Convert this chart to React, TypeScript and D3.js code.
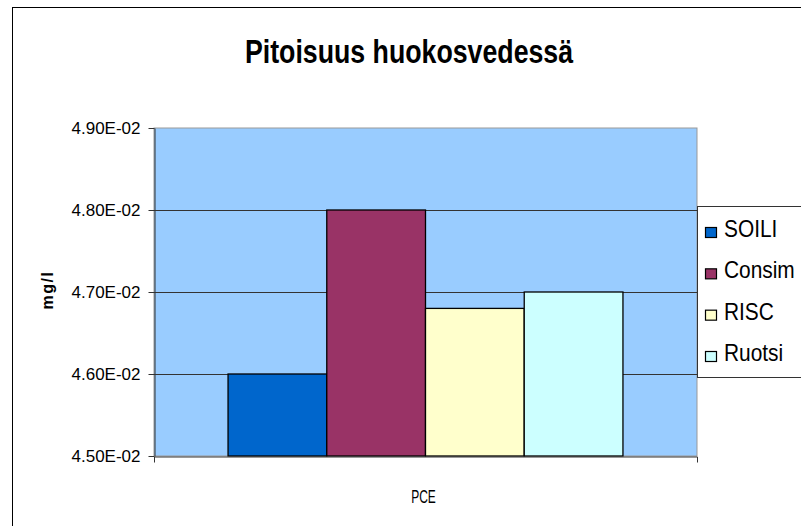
import { useEffect, useRef } from 'react';
import * as d3 from 'd3';

const title = 'Pitoisuus huokosvedessä';
const yLabel = 'mg/l';
const categories = ['PCE'];
const seriesNames = ['SOILI', 'Consim', 'RISC', 'Ruotsi'];
const seriesValues = [0.046, 0.048, 0.0468, 0.047];
const seriesColors = ['#0066CC', '#993366', '#FFFFCC', '#CCFFFF'];
const yTicks = [0.045, 0.046, 0.047, 0.048, 0.049];

export default function App() {
  const ref = useRef<SVGSVGElement | null>(null);

  useEffect(() => {
    if (!ref.current) return;
    const width = 801;
    const height = 526;
    const plot = { left: 154, top: 128, right: 697, bottom: 456 };
    const font = 'Liberation Sans, Arial, sans-serif';

    const svg = d3.select(ref.current);
    svg.selectAll('*').remove();
    svg.attr('width', width).attr('height', height);

    // outer frame
    svg
      .append('rect')
      .attr('x', 12.5)
      .attr('y', 7.5)
      .attr('width', width + 20)
      .attr('height', height + 20)
      .attr('fill', '#fff')
      .attr('stroke', '#000')
      .attr('stroke-width', 1);

    // narrow look of the original fonts: squeeze horizontally
    svg
      .append('text')
      .attr('transform', 'translate(409,63) scale(0.81,1)')
      .attr('text-anchor', 'middle')
      .attr('font-family', font)
      .attr('font-weight', 'bold')
      .attr('font-size', 33)
      .text(title);

    const x0 = d3
      .scaleBand()
      .domain(categories)
      .range([plot.left, plot.right])
      .paddingInner(0)
      .paddingOuter(0);

    // Excel-style gap width of 150%
    const groupWidth = x0.bandwidth() * (4 / 5.5);
    const x1 = d3.scaleBand().domain(seriesNames).range([0, groupWidth]);

    const y = d3.scaleLinear().domain([0.045, 0.049]).range([plot.bottom, plot.top]);

    svg
      .append('rect')
      .attr('x', plot.left)
      .attr('y', plot.top)
      .attr('width', plot.right - plot.left)
      .attr('height', plot.bottom - plot.top)
      .attr('fill', '#99CCFF')
      .attr('stroke', '#999')
      .attr('stroke-width', 1);

    // gridlines
    svg
      .append('g')
      .selectAll('line')
      .data(yTicks.slice(1, -1))
      .join('line')
      .attr('x1', plot.left)
      .attr('x2', plot.right)
      .attr('y1', d => Math.round(y(d)) + 0.5)
      .attr('y2', d => Math.round(y(d)) + 0.5)
      .attr('stroke', '#333')
      .attr('stroke-width', 1);

    categories.forEach(cat => {
      const gx = (x0(cat) ?? 0) + (x0.bandwidth() - groupWidth) / 2;
      svg
        .append('g')
        .selectAll('rect')
        .data(seriesValues)
        .join('rect')
        .attr('x', (_, i) => gx + (x1(seriesNames[i]) ?? 0))
        .attr('y', d => y(d))
        .attr('width', x1.bandwidth())
        .attr('height', d => plot.bottom - y(d))
        .attr('fill', (_, i) => seriesColors[i])
        .attr('stroke', '#000')
        .attr('stroke-width', 1.3);

      const cx = (x0(cat) ?? 0) + x0.bandwidth() / 2 - 2;
      svg
        .append('text')
        .attr('transform', `translate(${cx},503) scale(0.75,1.2)`)
        .attr('text-anchor', 'middle')
        .attr('font-family', font)
        .attr('font-size', 16)
        .text(cat);
    });

    // y axis
    const yAxis = svg
      .append('g')
      .attr('transform', `translate(${plot.left + 0.5},0)`)
      .call(
        d3
          .axisLeft(y)
          .tickValues(yTicks)
          .tickSize(6)
          .tickSizeOuter(0)
          .tickFormat(d => (d as number).toExponential(2).toUpperCase().replace('E-2', 'E-02'))
      );
    yAxis.select('.domain').attr('stroke', '#333');
    yAxis.selectAll('.tick line').attr('stroke', '#333');
    yAxis
      .selectAll('.tick text')
      .attr('font-family', font)
      .attr('font-size', 17)
      .attr('fill', '#000')
      .attr('x', -14);

    // x axis
    const xAxis = svg
      .append('g')
      .attr('transform', `translate(0,${plot.bottom + 0.5})`)
      .call(d3.axisBottom(x0).tickSizeInner(0).tickSizeOuter(6).tickFormat(() => ''));
    xAxis.select('.domain').attr('stroke', '#333');

    svg
      .append('text')
      .attr('transform', `translate(53,${(plot.top + plot.bottom) / 2 - 2}) rotate(-90)`)
      .attr('text-anchor', 'middle')
      .attr('font-family', font)
      .attr('font-weight', 'bold')
      .attr('font-size', 16)
      .attr('letter-spacing', 1.5)
      .text(yLabel);

    // legend
    const legend = svg.append('g');
    legend
      .append('rect')
      .attr('x', 697.5)
      .attr('y', 206.5)
      .attr('width', 120)
      .attr('height', 171)
      .attr('fill', '#fff')
      .attr('stroke', '#333');

    const ly = d3.scalePoint().domain(seriesNames).range([233, 357]);
    const items = legend
      .selectAll('g.item')
      .data(seriesNames)
      .join('g')
      .attr('class', 'item')
      .attr('transform', d => `translate(0,${ly(d)})`);
    items
      .append('rect')
      .attr('x', 705.5)
      .attr('y', -5.5)
      .attr('width', 11)
      .attr('height', 10)
      .attr('fill', (_, i) => seriesColors[i])
      .attr('stroke', '#000')
      .attr('stroke-width', 1.2);
    items
      .append('text')
      .attr('transform', 'translate(724,4) scale(0.87,1)')
      .attr('font-family', font)
      .attr('font-size', 24)
      .text(d => d);
  }, []);

  return (
    <svg
      ref={ref}
      style={{ position: 'absolute', left: 0, top: 0, display: 'block', background: '#fff' }}
    />
  );
}
